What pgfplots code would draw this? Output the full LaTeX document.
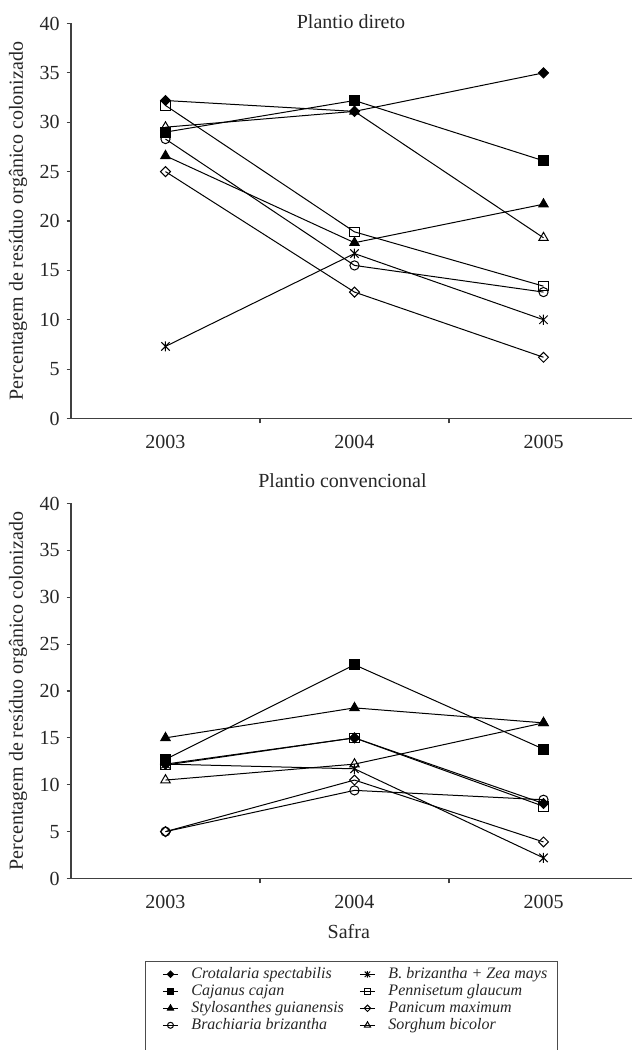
\documentclass[border=0pt]{standalone}
\usepackage{pgfplots}
\pgfplotsset{compat=1.18}
\usepackage{fontspec}
\setmainfont{Liberation Serif}

\pgfdeclareplotmark{xbar}{%
  \pgfpathmoveto{\pgfqpoint{-\pgfplotmarksize}{-\pgfplotmarksize}}%
  \pgfpathlineto{\pgfqpoint{\pgfplotmarksize}{\pgfplotmarksize}}%
  \pgfpathmoveto{\pgfqpoint{-\pgfplotmarksize}{\pgfplotmarksize}}%
  \pgfpathlineto{\pgfqpoint{\pgfplotmarksize}{-\pgfplotmarksize}}%
  \pgfpathmoveto{\pgfqpoint{0pt}{-1.2\pgfplotmarksize}}%
  \pgfpathlineto{\pgfqpoint{0pt}{1.2\pgfplotmarksize}}%
  \pgfusepathqstroke}

\pgfplotsset{
  base/.style={
    scale only axis, width=283.5pt,
    xmin=-0.5, xmax=2.5, ymin=0, ymax=40,
    axis x line*=bottom, axis y line*=left,
    x axis line style={-}, y axis line style={-},
    axis line style={black!75, line width=0.6pt},
    xtick={0,1,2}, xticklabels={2003,2004,2005},
    minor xtick={0.5,1.5},
    ytick={0,5,...,40},
    tick align=outside,
    major x tick style={draw=none},
    major tick length=2.2pt, minor tick length=2.4pt,
    tick style={black!75, line width=0.6pt},
    /pgf/number format/assume math mode=true,
    tick label style={font=\fontsize{10}{12}\selectfont, text=black!85},
    xticklabel style={anchor=base, yshift=-13pt},
    yticklabel style={anchor=east},
    ylabel={Percentagem de resíduo orgânico colonizado},
    ylabel style={at={(axis description cs:-0.0935,0.5)}, anchor=center, rotate=0, font=\fontsize{10}{12}\selectfont, text=black!85},
    every axis plot/.append style={line width=0.5pt, black},
    clip=false,
  },
  pCro/.style={mark=square*, mark size=1.75pt, mark options={rotate=45, fill=black}},
  pCaj/.style={mark=square*, mark size=2.5pt, mark options={fill=black}},
  pSty/.style={mark=triangle*, mark size=2.7pt, mark options={fill=black}},
  pBra/.style={mark=o, mark size=2.3pt, mark options={fill=white}},
  pBZ/.style={mark=xbar, mark size=2.1pt},
  pPen/.style={mark=square, mark size=2.4pt, mark options={fill=white}},
  pPan/.style={mark=square, mark size=1.75pt, mark options={rotate=45, fill=white}},
  pSor/.style={mark=triangle, mark size=2.7pt, mark options={fill=white}},
}

\begin{document}
\begin{tikzpicture}
% ---------- Plantio direto ----------
\begin{axis}[base, at={(35.5pt,315.75pt)}, anchor=south west, height=197.5pt]
\addplot[pCro] coordinates {(0,32.2) (1,31.1) (2,35.0)};
\addplot[pCaj] coordinates {(0,29.0) (1,32.2) (2,26.1)};
\addplot[pSty] coordinates {(0,26.6) (1,17.8) (2,21.7)};
\addplot[pBra] coordinates {(0,28.3) (1,15.5) (2,12.8)};
\addplot[pBZ]  coordinates {(0,7.3) (1,16.7) (2,10.0)};
\addplot[pPen] coordinates {(0,31.7) (1,18.9) (2,13.4)};
\addplot[pPan] coordinates {(0,25.0) (1,12.8) (2,6.2)};
\addplot[pSor] coordinates {(0,29.5) (1,31.1) (2,18.3)};
\end{axis}
% ---------- Plantio convencional ----------
\begin{axis}[base, at={(35.5pt,85.75pt)}, anchor=south west, height=187.5pt,
  xlabel={Safra},
  xlabel style={at={(axis description cs:0.49,0)}, anchor=base, yshift=-29.95pt, font=\fontsize{10}{12}\selectfont, text=black!85},
  legend columns=2,
  legend cell align=left,
  legend style={at={(axis description cs:0.1305,-0.2192)}, anchor=north west,
    draw=black!70, line width=0.5pt, fill=white,
    font=\fontsize{8}{9}\selectfont\itshape, text=black!85,
    inner xsep=0pt, inner ysep=2.3pt, row sep=0pt, column sep=0pt,
    nodes={inner sep=0pt, text height=6.2pt, text depth=2.3pt}},
  legend image code/.code={%
    \path (-8.5pt,0pt) (14pt,0pt);
    \draw[mark repeat=2,mark phase=2,line width=0.5pt, every mark/.append style={scale=0.65}] plot coordinates {(0pt,0pt) (3.75pt,0pt) (7.5pt,0pt)};},
]
\addplot[pCro] coordinates {(0,12.2) (1,15.0) (2,8.0)};
\addlegendentry{\makebox[75.5pt][l]{Crotalaria spectabilis}}
\addplot[pBZ]  coordinates {(0,12.2) (1,11.7) (2,2.2)};
\addlegendentry{\makebox[84.5pt][l]{B. brizantha + Zea mays}}
\addplot[pCaj] coordinates {(0,12.7) (1,22.8) (2,13.8)};
\addlegendentry{\makebox[75.5pt][l]{Cajanus cajan}}
\addplot[pPen] coordinates {(0,12.1) (1,15.0) (2,7.7)};
\addlegendentry{\makebox[84.5pt][l]{Pennisetum glaucum}}
\addplot[pSty] coordinates {(0,15.0) (1,18.2) (2,16.6)};
\addlegendentry{\makebox[75.5pt][l]{Stylosanthes guianensis}}
\addplot[pPan] coordinates {(0,5.0) (1,10.5) (2,3.9)};
\addlegendentry{\makebox[84.5pt][l]{Panicum maximum}}
\addplot[pBra] coordinates {(0,5.0) (1,9.4) (2,8.4)};
\addlegendentry{\makebox[75.5pt][l]{Brachiaria brizantha}}
\addplot[pSor] coordinates {(0,10.5) (1,12.2) (2,16.6)};
\addlegendentry{\makebox[84.5pt][l]{Sorghum bicolor}}
\addlegendimage{empty legend}
\addlegendentry{}
\addlegendimage{empty legend}
\addlegendentry{}
\end{axis}
\node[anchor=base, font=\fontsize{10}{12}\selectfont, text=black!85] at (175.5pt,510.5pt) {Plantio direto};
\node[anchor=base, font=\fontsize{10}{12}\selectfont, text=black!85] at (171.25pt,281.25pt) {Plantio convencional};
\pgfresetboundingbox
\useasboundingbox (0,0) rectangle (316pt,525pt);
\end{tikzpicture}
\end{document}
